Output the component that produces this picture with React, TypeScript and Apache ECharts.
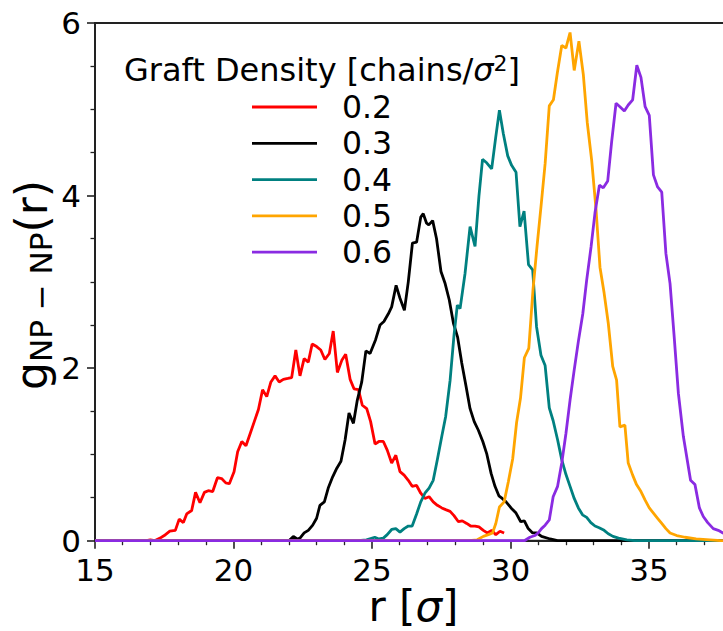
import React, { useEffect, useRef } from "react";
import * as echarts from "echarts";

// Graft density legend labels and colours
const seriesNames = ["0.2", "0.3", "0.4", "0.5", "0.6"];
const seriesColors = ["#ff0000", "#000000", "#008080", "#ffa500", "#8a2be2"];

// Axis ticks
const xMin = 15;
const xMax = 40;
const xInterval = 5;
const yMin = 0;
const yMax = 6;
const yInterval = 2;

// g_NP-NP(r) curves, [r, g]
const gd02: [number, number][] = [
  [15, 0], [16.85, 0], [17.0, 0.01], [17.15, 0], [17.35, 0.03], [17.5, 0.06], [17.7, 0.11], [17.9, 0.12],
  [18.04, 0.25], [18.19, 0.21], [18.31, 0.31], [18.49, 0.35], [18.63, 0.56], [18.79, 0.44], [18.95, 0.56],
  [19.09, 0.58], [19.25, 0.57], [19.42, 0.73], [19.57, 0.72], [19.72, 0.67], [19.85, 0.66], [20.02, 0.8],
  [20.15, 1.03], [20.3, 1.15], [20.45, 1.1], [20.6, 1.24], [20.75, 1.38], [20.9, 1.52], [21.05, 1.75],
  [21.2, 1.67], [21.35, 1.84], [21.5, 1.91], [21.65, 1.84], [21.8, 1.87], [21.96, 1.88], [22.1, 1.89],
  [22.25, 2.21], [22.4, 1.91], [22.55, 2.11], [22.7, 2.07], [22.84, 2.28], [23.0, 2.25], [23.15, 2.21],
  [23.3, 2.1], [23.46, 2.17], [23.6, 2.43], [23.75, 1.95], [23.91, 2.09], [24.05, 2.16], [24.21, 1.87],
  [24.35, 1.76], [24.51, 1.75], [24.65, 1.57], [24.81, 1.53], [24.95, 1.38], [25.11, 1.12], [25.25, 1.15],
  [25.41, 1.15], [25.55, 1.05], [25.71, 0.9], [25.86, 0.99], [26.01, 0.8], [26.16, 0.76], [26.31, 0.7],
  [26.45, 0.63], [26.61, 0.64], [26.76, 0.55], [26.91, 0.49], [27.06, 0.51], [27.21, 0.45], [27.36, 0.41],
  [27.52, 0.38], [27.66, 0.36], [27.82, 0.34], [27.96, 0.29], [28.12, 0.22], [28.26, 0.23], [28.42, 0.2],
  [28.56, 0.17], [28.72, 0.17], [28.86, 0.16], [29.02, 0.12], [29.16, 0.09], [29.32, 0.12], [29.47, 0.07],
  [29.62, 0.11], [29.77, 0.09],
];

const gd03: [number, number][] = [
  [15, 0], [22.0, 0], [22.16, 0.05], [22.3, 0.02], [22.4, 0.03], [22.55, 0.09], [22.7, 0.12], [22.86, 0.18],
  [23.0, 0.26], [23.12, 0.41], [23.28, 0.45], [23.42, 0.61], [23.58, 0.74], [23.73, 0.84], [23.88, 0.92],
  [24.03, 1.17], [24.17, 1.48], [24.33, 1.36], [24.47, 1.63], [24.63, 1.84], [24.78, 2.2], [24.93, 2.17],
  [25.13, 2.33], [25.29, 2.5], [25.43, 2.54], [25.59, 2.63], [25.71, 2.71], [25.87, 2.96], [26.01, 2.81],
  [26.17, 2.67], [26.31, 3.0], [26.46, 3.45], [26.61, 3.46], [26.76, 3.75], [26.85, 3.79], [26.97, 3.68],
  [27.05, 3.66], [27.19, 3.71], [27.33, 3.5], [27.49, 3.12], [27.64, 2.98], [27.79, 2.79], [27.94, 2.52],
  [28.09, 2.36], [28.24, 2.06], [28.39, 1.8], [28.54, 1.53], [28.69, 1.38], [28.84, 1.28], [29.0, 1.15],
  [29.14, 1.01], [29.3, 0.78], [29.44, 0.63], [29.58, 0.52], [29.7, 0.49], [29.84, 0.45], [30.02, 0.38],
  [30.2, 0.32], [30.37, 0.22], [30.5, 0.23], [30.64, 0.14], [30.8, 0.09], [30.95, 0.09], [31.12, 0.05],
  [31.43, 0.02], [31.7, 0], [40, 0],
];

const gd04: [number, number][] = [
  [15, 0], [24.5, 0], [24.8, 0.01], [25.1, 0.04], [25.25, 0.02], [25.41, 0.03], [25.55, 0.07], [25.71, 0.13],
  [25.86, 0.14], [26.01, 0.1], [26.16, 0.14], [26.31, 0.17], [26.45, 0.17], [26.61, 0.31], [26.76, 0.45],
  [26.91, 0.55], [27.06, 0.61], [27.21, 0.7], [27.36, 0.94], [27.52, 1.21], [27.66, 1.44], [27.82, 1.86],
  [27.96, 2.38], [28.08, 2.73], [28.18, 2.69], [28.36, 3.1], [28.54, 3.64], [28.72, 3.41], [28.86, 3.99],
  [28.99, 4.42], [29.14, 4.38], [29.32, 4.31], [29.46, 4.66], [29.6, 4.99], [29.74, 4.72], [29.9, 4.46],
  [30.04, 4.35], [30.2, 4.27], [30.34, 3.64], [30.49, 3.82], [30.65, 3.2], [30.8, 3.14], [30.94, 2.48],
  [31.1, 2.15], [31.25, 2.03], [31.4, 1.54], [31.54, 1.39], [31.7, 1.17], [31.85, 0.94], [32.0, 0.77],
  [32.15, 0.63], [32.3, 0.49], [32.45, 0.38], [32.6, 0.3], [32.75, 0.27], [32.9, 0.21], [33.05, 0.17],
  [33.2, 0.15], [33.38, 0.12], [33.53, 0.08], [33.7, 0.05], [33.9, 0.03], [34.2, 0.01], [34.5, 0], [40, 0],
];

const gd05: [number, number][] = [
  [15, 0], [28.5, 0], [28.8, 0.01], [29.02, 0.05], [29.2, 0.07], [29.35, 0.09], [29.47, 0.2], [29.6, 0.39],
  [29.77, 0.45], [29.92, 0.68], [30.08, 0.95], [30.22, 1.37], [30.36, 1.65], [30.5, 2.12], [30.66, 2.23],
  [30.81, 2.9], [30.96, 3.42], [31.1, 3.87], [31.25, 4.37], [31.4, 5.04], [31.55, 5.11], [31.69, 5.42],
  [31.85, 5.74], [32.0, 5.71], [32.15, 5.89], [32.3, 5.45], [32.47, 5.79], [32.63, 5.4], [32.77, 4.85],
  [32.93, 4.41], [33.09, 3.83], [33.23, 3.17], [33.38, 2.87], [33.53, 2.52], [33.69, 2.02], [33.83, 1.86],
  [33.95, 1.32], [34.13, 1.34], [34.25, 0.9], [34.41, 0.76], [34.55, 0.65], [34.71, 0.57], [34.86, 0.47],
  [35.01, 0.38], [35.16, 0.32], [35.31, 0.26], [35.46, 0.2], [35.61, 0.14], [35.76, 0.09], [36.0, 0.06],
  [36.3, 0.04], [36.7, 0.02], [37.2, 0.01], [37.6, 0], [40, 0],
];

const gd06: [number, number][] = [
  [15, 0], [30.5, 0], [30.7, 0.04], [30.88, 0.06], [31.0, 0.09], [31.12, 0.14], [31.25, 0.18], [31.4, 0.24],
  [31.54, 0.51], [31.7, 0.63], [31.85, 0.9], [32.0, 1.24], [32.15, 1.63], [32.3, 1.98], [32.45, 2.31],
  [32.61, 2.63], [32.75, 3.02], [32.91, 3.41], [33.05, 3.8], [33.21, 4.12], [33.35, 4.09], [33.51, 4.17],
  [33.65, 4.62], [33.81, 5.07], [33.95, 5.03], [34.11, 4.98], [34.25, 5.05], [34.41, 5.11], [34.56, 5.51],
  [34.71, 5.37], [34.86, 5.03], [35.01, 4.93], [35.16, 4.24], [35.31, 4.1], [35.46, 4.04], [35.61, 3.33],
  [35.76, 2.98], [35.91, 2.36], [36.06, 1.71], [36.24, 1.21], [36.5, 0.7], [36.66, 0.65], [36.82, 0.38],
  [36.96, 0.28], [37.12, 0.21], [37.32, 0.14], [37.5, 0.12], [37.67, 0.09], [37.85, 0.05], [38.0, 0.03],
  [38.3, 0.01], [38.6, 0], [40, 0],
];

const seriesData = [gd02, gd03, gd04, gd05, gd06];

const FONT = "DejaVu Sans";
const AXIS_COLOR = "#222";

export default function App() {
  const ref = useRef<HTMLDivElement>(null);

  useEffect(() => {
    if (!ref.current) return;
    const chart = echarts.init(ref.current, null, { renderer: "svg" });
    const gridLeft = 95;
    const gridTop = 23;
    const pxPerX = 27.7;
    const gridWidth = (xMax - xMin) * pxPerX;
    const gridHeight = 517.7;

    chart.setOption({
      animation: false,
      color: seriesColors,
      grid: {
        left: gridLeft,
        top: gridTop,
        width: gridWidth,
        height: gridHeight,
        show: true,
        borderColor: AXIS_COLOR,
        borderWidth: 2,
        backgroundColor: "transparent",
      },
      xAxis: {
        type: "value",
        min: xMin,
        max: xMax,
        interval: xInterval,
        splitLine: { show: false },
        axisLine: { show: true, onZero: false, lineStyle: { color: AXIS_COLOR, width: 2 } },
        axisTick: { show: true, length: 8, lineStyle: { color: AXIS_COLOR, width: 1.6 } },
        minorTick: { show: true, splitNumber: 5, length: 4.5, lineStyle: { color: AXIS_COLOR, width: 1.3 } },
        minorSplitLine: { show: false },
        axisLabel: {
          fontSize: 31,
          fontFamily: FONT,
          color: "#000",
          margin: 16,
          lineHeight: 26,
          formatter: (v: number) => (v % 5 === 0 && v <= 35 ? String(v) : ""),
        },
      },
      yAxis: {
        type: "value",
        min: yMin,
        max: yMax,
        interval: yInterval,
        splitLine: { show: false },
        axisLine: { show: true, onZero: false, lineStyle: { color: AXIS_COLOR, width: 2 } },
        axisTick: { show: true, length: 8, lineStyle: { color: AXIS_COLOR, width: 1.6 } },
        minorTick: { show: true, splitNumber: 4, length: 4.5, lineStyle: { color: AXIS_COLOR, width: 1.3 } },
        minorSplitLine: { show: false },
        axisLabel: {
          fontSize: 31,
          fontFamily: FONT,
          color: "#000",
          margin: 14,
        },
      },
      legend: {
        data: seriesNames,
        orient: "vertical",
        left: 252,
        top: 89,
        padding: 0,
        icon: "rect",
        itemWidth: 65,
        itemHeight: 2.8,
        itemGap: 0.3,
        selectedMode: false,
        textStyle: {
          fontSize: 31.5,
          fontFamily: FONT,
          color: "#000",
          lineHeight: 36,
          padding: [0, 0, 0, 20],
        },
      },
      graphic: [
        {
          type: "text",
          x: 322,
          y: 70,
          z: 10,
          style: {
            text: "{n|Graft Density [chains/}{i|σ}{s|2}{n|]}",
            align: "center",
            verticalAlign: "middle",
            fill: "#000",
            rich: {
              n: { fontSize: 32, fontFamily: FONT, fill: "#000", lineHeight: 36 },
              i: { fontSize: 32, fontFamily: FONT, fontStyle: "italic", fill: "#000", lineHeight: 36 },
              s: { fontSize: 22, fontFamily: FONT, fill: "#000", lineHeight: 14, verticalAlign: "top" },
            },
          },
        },
        {
          type: "text",
          x: 31,
          y: 285,
          rotation: Math.PI / 2,
          z: 10,
          style: {
            text: "{g|g}{s|NP − NP}{g|(r)}",
            align: "center",
            verticalAlign: "middle",
            fill: "#000",
            rich: {
              g: { fontSize: 44, fontFamily: FONT, fill: "#000", lineHeight: 50 },
              s: { fontSize: 31, fontFamily: FONT, fill: "#000", lineHeight: 28, verticalAlign: "bottom" },
            },
          },
        },
        {
          type: "text",
          x: 413.5,
          y: 606,
          z: 10,
          style: {
            text: "{n|r [}{i|σ}{n|]}",
            align: "center",
            verticalAlign: "middle",
            fill: "#000",
            rich: {
              n: { fontSize: 42, fontFamily: FONT, fill: "#000", lineHeight: 40 },
              i: { fontSize: 42, fontFamily: FONT, fontStyle: "italic", fill: "#000", lineHeight: 40 },
            },
          },
        },
      ],
      series: seriesData.map((d, i) => ({
        name: seriesNames[i],
        type: "line",
        data: d,
        showSymbol: false,
        symbol: "none",
        clip: true,
        lineStyle: { width: 2.8, color: seriesColors[i] },
        itemStyle: { color: seriesColors[i] },
        z: 2 + i,
      })),
    });

    return () => chart.dispose();
  }, []);

  return (
    <div
      ref={ref}
      style={{ position: "fixed", left: 0, top: 0, width: 800, height: 631, background: "#fff" }}
    />
  );
}
